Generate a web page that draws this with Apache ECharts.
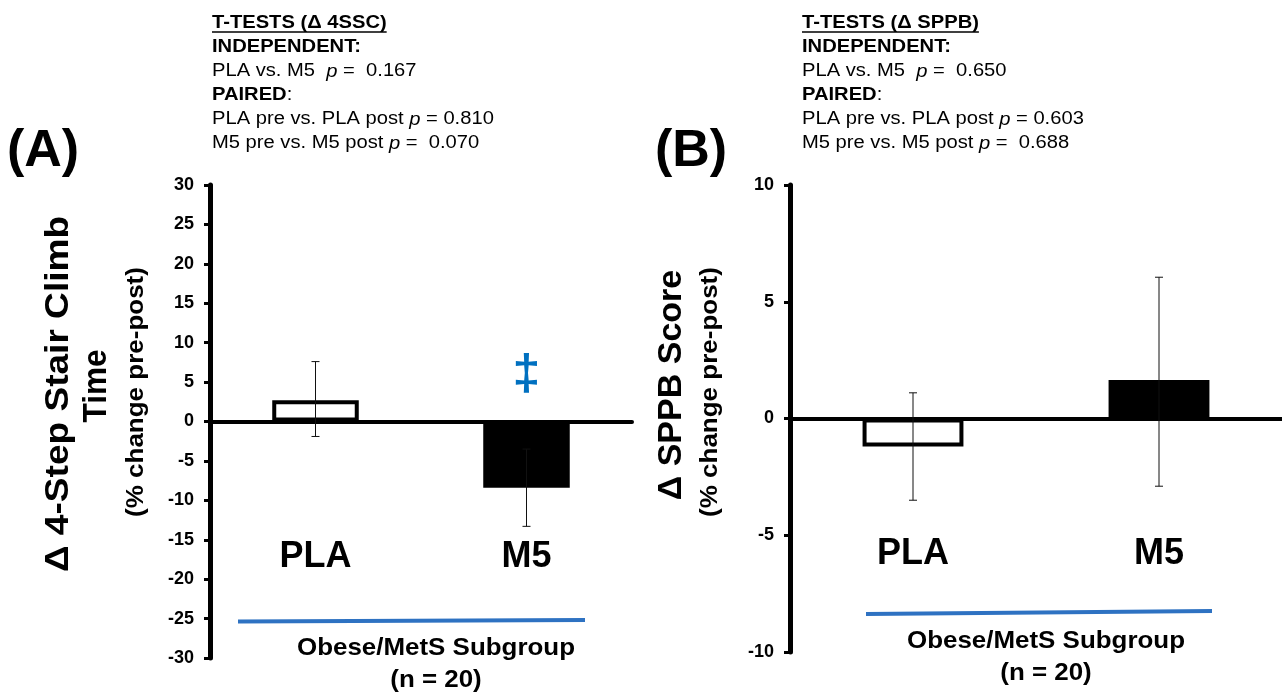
<!DOCTYPE html>
<html>
<head>
<meta charset="utf-8">
<script src="https://cdn.jsdelivr.net/npm/echarts@6/dist/echarts.min.js"></script>
<style>
  html, body { margin: 0; padding: 0; background: #fff; }
  #chart { width: 1282px; height: 693px; }
</style>
</head>
<body>
<div id="chart"></div>
<script>
// ---------------- data ----------------
const categories = ['PLA', 'M5'];
// Panel A: change in 4-step stair climb time (% change pre-post)
const stairMean = [2.7, -8.4];
const stairErrLow = [-1.9, -13.3];
const stairErrHigh = [7.6, -3.5];
// Panel B: change in SPPB score (% change pre-post)
const sppbMean = [-1.2, 1.65];
const sppbErrLow = [-3.5, -2.9];
const sppbErrHigh = [1.1, 6.05];
// axis ranges
const stairAxis = { min: -30, max: 30, interval: 5 };
const sppbAxis = { min: -10, max: 10, interval: 5 };
// significance marker on M5 (panel A)
const markerSymbol = '\u2021';
const markerValue = 5.9;
// text
const headerA = [
  'T-TESTS (\u0394 4SSC)', 'INDEPENDENT:', ['PLA vs. M5  ', 'p', ' =  0.167'], 'PAIRED',
  ['PLA pre vs. PLA post ', 'p', ' = 0.810'], ['M5 pre vs. M5 post ', 'p', ' =  0.070']
];
const headerB = [
  'T-TESTS (\u0394 SPPB)', 'INDEPENDENT:', ['PLA vs. M5  ', 'p', ' =  0.650'], 'PAIRED',
  ['PLA pre vs. PLA post ', 'p', ' = 0.603'], ['M5 pre vs. M5 post ', 'p', ' =  0.688']
];
const subgroupText = 'Obese/MetS Subgroup';
const nText = '(n = 20)';

// ---------------- styles ----------------
const FONT = "'Liberation Sans', Arial, sans-serif";
const BLUE = '#2E72C2';
const fills = ['#ffffff', '#000000'];
const HSCALE = 1.12;

const chart = echarts.init(document.getElementById('chart'), null, { renderer: 'canvas' });

const measureCtx = document.createElement('canvas').getContext('2d');
function textWidth(txt, font) { measureCtx.font = font; return measureCtx.measureText(txt).width; }

function errRender(params, api) {
  const x = api.value(0);
  const pLo = api.coord([x, api.value(1)]);
  const pHi = api.coord([x, api.value(2)]);
  const cap = 4;
  const st = { stroke: '#111', lineWidth: 1 };
  return {
    type: 'group',
    children: [
      { type: 'line', shape: { x1: pLo[0], y1: pLo[1], x2: pHi[0], y2: pHi[1] }, style: st },
      { type: 'line', shape: { x1: pLo[0] - cap, y1: pLo[1], x2: pLo[0] + cap, y2: pLo[1] }, style: st },
      { type: 'line', shape: { x1: pHi[0] - cap, y1: pHi[1], x2: pHi[0] + cap, y2: pHi[1] }, style: st }
    ]
  };
}

function yAxisCfg(gridIndex, rng) {
  return {
    type: 'value', gridIndex, min: rng.min, max: rng.max, interval: rng.interval,
    splitLine: { show: false },
    axisLine: { show: true, lineStyle: { color: '#000', width: 5 } },
    axisTick: { show: true, inside: false, length: 6, lineStyle: { color: '#000', width: 3 } },
    axisLabel: { color: '#000', fontFamily: FONT, fontWeight: 'bold', fontSize: 18, margin: 16 }
  };
}
function xAxisCfg(gridIndex, labelMargin) {
  return {
    type: 'category', gridIndex, data: categories,
    axisLine: { show: true, onZero: true, lineStyle: { color: '#000', width: 4 } },
    axisTick: { show: false },
    axisLabel: { color: '#000', fontFamily: FONT, fontWeight: 'bold', fontSize: 36, margin: labelMargin }
  };
}

function barSeries(idx, values) {
  return {
    type: 'bar', xAxisIndex: idx, yAxisIndex: idx, barWidth: '41%',
    data: values.map((v, i) => ({
      value: v,
      itemStyle: { color: fills[i], borderColor: '#000', borderWidth: i === 0 ? 4 : 0 }
    })),
    z: 2
  };
}
function errSeries(idx, lo, hi) {
  return {
    type: 'custom', xAxisIndex: idx, yAxisIndex: idx, renderItem: errRender,
    encode: { x: 0, y: [1, 2] },
    data: categories.map((c, i) => [i, lo[i], hi[i]]), z: 5
  };
}

// ---------- graphic annotations ----------
const graphics = [];
function addText(x, y, text, opts, extra) {
  graphics.push(Object.assign({
    type: 'text', x, y,
    style: Object.assign({ text, fill: '#000', font: '18px ' + FONT, textVerticalAlign: 'middle' }, opts || {})
  }, extra || {}));
}
function addHeader(x0, lines) {
  const lh = 24, y0 = 23.5;
  lines.forEach((ln, k) => {
    const y = y0 + k * lh;
    if (Array.isArray(ln)) {
      graphics.push({
        type: 'text', x: x0, y, scaleX: HSCALE,
        style: {
          text: '{r|' + ln[0] + '}{i|' + ln[1] + '}{r|' + ln[2] + '}',
          textVerticalAlign: 'middle',
          rich: {
            r: { fontFamily: FONT, fontSize: 18, fill: '#000' },
            i: { fontFamily: FONT, fontSize: 18, fontStyle: 'italic', fill: '#000' }
          }
        }
      });
    } else if (k === 3) {
      graphics.push({
        type: 'text', x: x0, y, scaleX: HSCALE,
        style: {
          text: '{b|' + ln + '}{r|:}', textVerticalAlign: 'middle',
          rich: {
            b: { fontFamily: FONT, fontSize: 18, fontWeight: 'bold', fill: '#000' },
            r: { fontFamily: FONT, fontSize: 18, fill: '#000' }
          }
        }
      });
    } else {
      const f = 'bold 18px ' + FONT;
      addText(x0, y, ln, { font: f }, { scaleX: HSCALE });
      if (k === 0) {
        const w = textWidth(ln, f) * HSCALE;
        graphics.push({ type: 'line', shape: { x1: x0, y1: y + 8.5, x2: x0 + w, y2: y + 8.5 }, style: { stroke: '#000', lineWidth: 1.5 } });
      }
    }
  });
}
addHeader(212, headerA);
addHeader(802, headerB);

// panel letters
addText(7, 152, '(A)', { font: 'bold 52px ' + FONT });
addText(655, 152, '(B)', { font: 'bold 52px ' + FONT });

// rotated y-axis titles
function addRot(x, y, text, font, stretch) {
  graphics.push({
    type: 'text', x, y, rotation: Math.PI / 2, scaleX: stretch || 1,
    style: { text, font, fill: '#000', textAlign: 'center', textVerticalAlign: 'middle' }
  });
}
addRot(59, 394, '\u0394 4-Step Stair Climb', 'bold 34px ' + FONT, 1.09);
addRot(97, 386, 'Time', 'bold 34px ' + FONT, 0.93);
addRot(137, 392, '(% change pre-post)', 'bold 23px ' + FONT, 1.13);
addRot(672, 385, '\u0394 SPPB Score', 'bold 34px ' + FONT, 1.0);
addRot(711, 392, '(% change pre-post)', 'bold 23px ' + FONT, 1.13);

// blue subgroup brackets + captions
graphics.push({ type: 'line', shape: { x1: 238, y1: 621.5, x2: 585, y2: 620 }, style: { stroke: BLUE, lineWidth: 4 } });
graphics.push({ type: 'line', shape: { x1: 866, y1: 614, x2: 1212, y2: 611 }, style: { stroke: BLUE, lineWidth: 4 } });
addText(436, 648, subgroupText, { font: 'bold 24px ' + FONT, textAlign: 'center' }, { scaleX: 1.08 });
addText(436, 680, nText, { font: 'bold 24px ' + FONT, textAlign: 'center' }, { scaleX: 1.08 });
addText(1046, 641, subgroupText, { font: 'bold 24px ' + FONT, textAlign: 'center' }, { scaleX: 1.08 });
addText(1046, 673, nText, { font: 'bold 24px ' + FONT, textAlign: 'center' }, { scaleX: 1.08 });

const barA = barSeries(0, stairMean);
barA.markPoint = {
  symbol: 'circle', symbolSize: 0, silent: true,
  label: { show: true, position: 'inside', formatter: markerSymbol, color: '#0070C0', fontSize: 50, fontWeight: 'bold', fontFamily: FONT },
  data: [{ coord: [categories[1], markerValue] }]
};

chart.setOption({
  backgroundColor: '#fff',
  animation: false,
  grid: [
    { left: 210, top: 185, width: 422, height: 473, outerBoundsMode: 'none', containLabel: false },
    { left: 790, top: 185, width: 492, height: 467, outerBoundsMode: 'none', containLabel: false }
  ],
  xAxis: [xAxisCfg(0, -119), xAxisCfg(1, -116)],
  yAxis: [yAxisCfg(0, stairAxis), yAxisCfg(1, sppbAxis)],
  series: [
    barA,
    errSeries(0, stairErrLow, stairErrHigh),
    barSeries(1, sppbMean),
    errSeries(1, sppbErrLow, sppbErrHigh)
  ],
  graphic: graphics
});
</script>
</body>
</html>
